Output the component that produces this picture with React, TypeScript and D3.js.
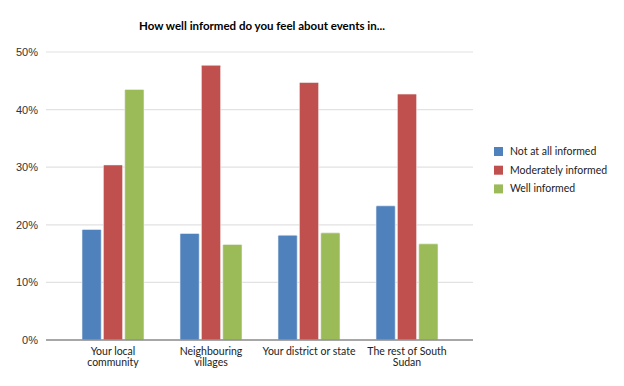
import React from "react";
import * as d3 from "d3";

const categories = [
  ["Your local", "community"],
  ["Neighbouring", "villages"],
  ["Your district or state"],
  ["The rest of South", "Sudan"],
];
const seriesNames = ["Not at all informed", "Moderately informed", "Well informed"];
const notAtAll = [19.2, 18.5, 18.2, 23.3];
const moderately = [30.4, 47.7, 44.7, 42.7];
const wellInformed = [43.5, 16.6, 18.6, 16.7];
const yTicks = [0, 10, 20, 30, 40, 50];
const colors = ["#4f81bd", "#c0504d", "#9bbb59"];

const W = 624, H = 386;
const margin = { left: 46, right: 473, top: 52, bottom: 340 };

export default function App() {
  const series = [notAtAll, moderately, wellInformed];
  const x = d3.scaleBand<number>().domain(d3.range(categories.length)).range([64, 456]);
  const inner = d3.scaleBand<number>().domain([0, 1, 2]).range([0, 62]).paddingInner(0.1);
  const y = d3.scaleLinear().domain([0, 50]).range([margin.bottom, margin.top]);

  return (
    <svg width={W} height={H} style={{ position: "absolute", left: 0, top: 0, background: "#fff" }}>
      <text x={262} y={30} textAnchor="middle" fontFamily="Lato, sans-serif" fontWeight="bold" fontSize={11.5} fill="#000">
        How well informed do you feel about events in...
      </text>
      {yTicks.map(t => (
        <g key={t}>
          {t > 0 && (
            <line x1={margin.left} x2={margin.right} y1={y(t)} y2={y(t)} stroke="#e2e2e2" strokeWidth={1.2} />
          )}
          <text x={38} y={y(t) + 4} textAnchor="end" fontFamily="'Liberation Sans', Arial, sans-serif" fontSize={11} fill="#333">
            {t}%
          </text>
        </g>
      ))}
      {categories.map((c, i) => (
        <g key={i} transform={`translate(${x(i)! + x.bandwidth() / 2 - 31},0)`}>
          {series.map((s, j) => (
            <rect
              key={j}
              x={inner(j)}
              y={y(s[i])}
              width={inner.bandwidth()}
              height={y(0) - y(s[i])}
              fill={colors[j]}
              stroke="#f4f4f4"
              strokeWidth={0.6}
              rx={1}
            />
          ))}
        </g>
      ))}
      <line x1={margin.left} x2={margin.right} y1={y(0)} y2={y(0)} stroke="#8a8a8a" strokeWidth={1.5} />
      {categories.map((c, i) => (
        <text key={i} textAnchor="middle" fontFamily="Lato, sans-serif" fontSize={10.5} fill="#222">
          {c.map((line, k) => (
            <tspan key={k} x={x(i)! + x.bandwidth() / 2} y={355 + k * 11}>{line}</tspan>
          ))}
        </text>
      ))}
      {seriesNames.map((n, j) => (
        <g key={n} transform={`translate(494,${147 + j * 18.7})`}>
          <rect width={9} height={9} fill={colors[j]} />
          <text x={16} y={8} fontFamily="Lato, sans-serif" fontSize={10.5} fill="#222">{n}</text>
        </g>
      ))}
    </svg>
  );
}
